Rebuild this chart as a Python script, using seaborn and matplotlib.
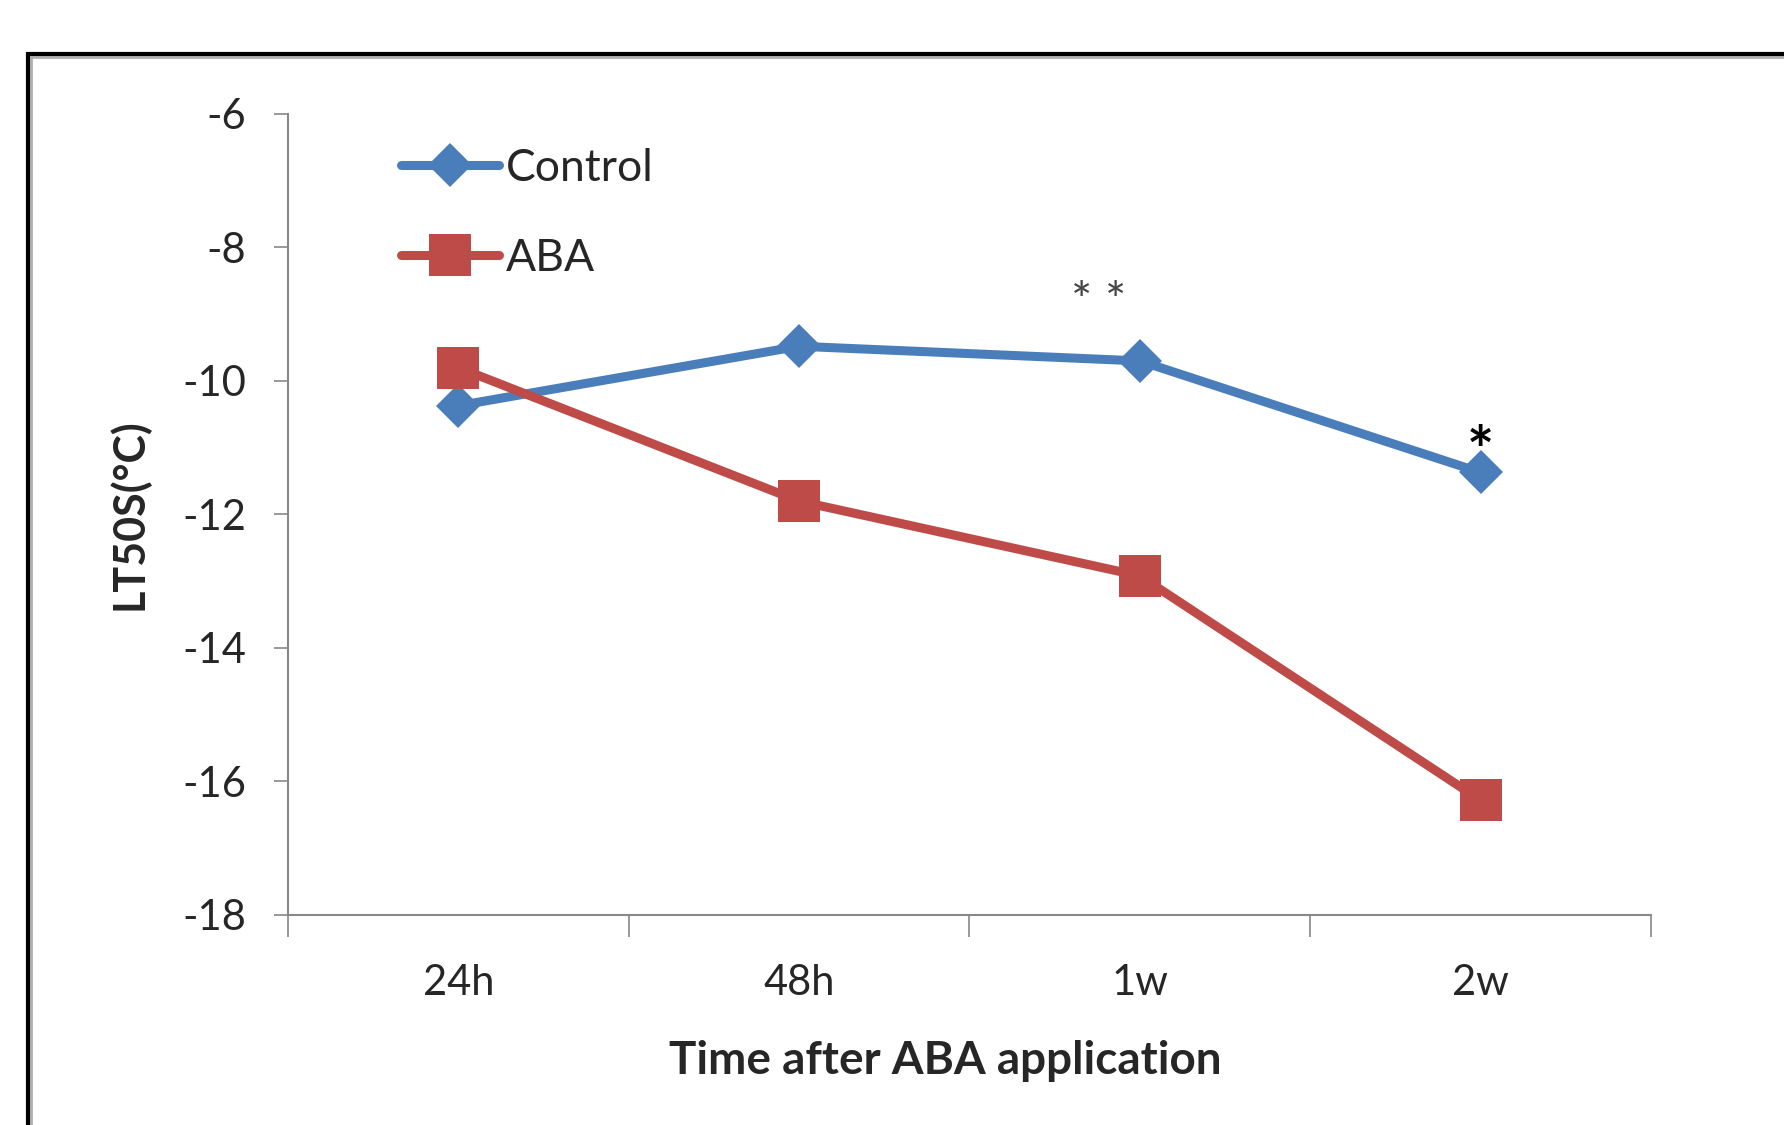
import matplotlib
matplotlib.use("Agg")
import matplotlib.pyplot as plt
import seaborn as sns
import pandas as pd
from matplotlib.patches import Rectangle

categories = ["24h", "48h", "1w", "2w"]
control = [-10.37, -9.48, -9.70, -11.37]
aba = [-9.80, -11.80, -12.92, -16.28]
series_names = ["Control", "ABA"]
y_ticks = [-6, -8, -10, -12, -14, -16, -18]

df = pd.DataFrame({
    "x": list(range(len(categories))) * 2,
    "value": control + aba,
    "series": [series_names[0]] * len(categories) + [series_names[1]] * len(categories),
})

sns.set_theme(style="white")
plt.rcParams["font.family"] = ["Lato", "DejaVu Sans"]

fig = plt.figure(figsize=(17.84, 11.25), dpi=100)
fig.patch.set_facecolor("white")
ax = fig.add_axes([0.1614, 0.1867, 0.9254 - 0.1614, 0.8987 - 0.1867])

# outer frame
frame = Rectangle((28 / 1784, -0.05), 1.1, (1 - 54 / 1125) + 0.05, transform=fig.transFigure,
                  fill=False, edgecolor="black", linewidth=3, zorder=-1)
fig.patches.append(frame)
shadow = Rectangle((31 / 1784, -0.05), 1.1, (1 - 57 / 1125) + 0.05, transform=fig.transFigure,
                   fill=False, edgecolor="#b0b0b0", linewidth=2, zorder=-2)
fig.patches.append(shadow)

palette = {"Control": "#4A7EBB", "ABA": "#BE4B48"}
markers = {"Control": "D", "ABA": "s"}
sizes = {"Control": 22, "ABA": 30}

for name in series_names:
    sub = df[df["series"] == name]
    sns.lineplot(data=sub, x="x", y="value", ax=ax, color=palette[name], marker=markers[name],
                 markersize=sizes[name], markeredgewidth=0, linewidth=6.5, label=name,
                 solid_capstyle="round")

ax.set_xlim(-0.5, 3.5)
ax.set_ylim(-18, -6)
ax.set_yticks(y_ticks)
ax.set_yticklabels([str(v) for v in y_ticks], fontsize=30)
ax.set_xticks(range(len(categories)))
ax.set_xticklabels(categories, fontsize=30)
ax.set_xticks([-0.5, 0.5, 1.5, 2.5, 3.5], minor=True)
ax.tick_params(axis="x", which="major", length=0, pad=35)
ax.tick_params(axis="x", which="minor", length=16, width=1.2, color="#888888", direction="out", bottom=True)
ax.tick_params(axis="y", which="major", length=10, width=1.2, color="#888888", direction="out", left=True, pad=20)

for s in ["top", "right"]:
    ax.spines[s].set_visible(False)
for s in ["left", "bottom"]:
    ax.spines[s].set_color("#888888")
    ax.spines[s].set_linewidth(1.5)

ax.set_xlabel("Time after ABA application", fontsize=33, fontweight="bold", labelpad=28)
ax.xaxis.label.set_x(0.482)
ax.set_ylabel("LT50S(°C)", fontsize=31, fontweight="bold", labelpad=24)

ax.text(1.88, -8.85, "* *", ha="center", va="center", fontsize=36, color="#444444")
ax.text(3.0, -11.1, "*", ha="center", va="center", fontsize=46, color="black", fontweight="bold")

leg = ax.legend(loc="upper left", bbox_to_anchor=(0.07, 0.98), frameon=False, fontsize=32,
                handlelength=2.2, handletextpad=0.15, labelspacing=1.1, borderaxespad=0)

fig.savefig("out.png", dpi=100, facecolor="white")
